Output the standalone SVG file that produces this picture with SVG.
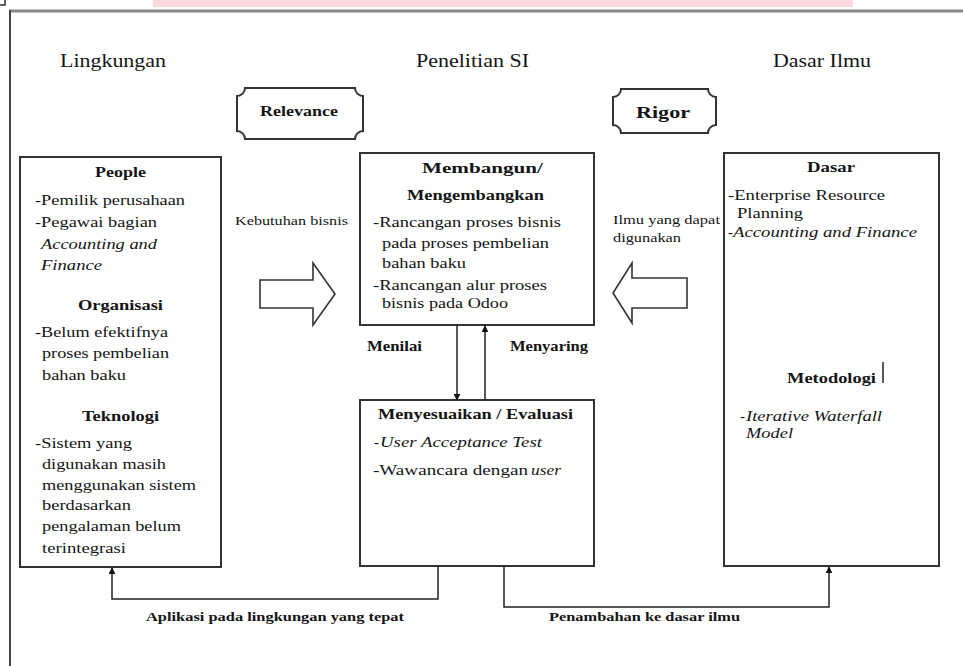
<svg xmlns="http://www.w3.org/2000/svg" width="963" height="666" viewBox="0 0 963 666">
<style>
text{font-family:"Liberation Serif","Times New Roman",serif;fill:#151515;font-size:15px}
.b{font-weight:bold}
.i{font-style:italic}
.h{font-size:18px}
.s{font-size:13.5px}
.box{fill:#fff;stroke:#333;stroke-width:2}
.blk{fill:#fff;stroke:#333;stroke-width:1.6}
.ln{fill:none;stroke:#222;stroke-width:1.5}
</style>
<defs>
<marker id="ah" viewBox="0 0 10 10" refX="9" refY="5" markerWidth="7" markerHeight="7" markerUnits="userSpaceOnUse" orient="auto">
<path d="M0,0 L10,5 L0,10 Z" fill="#111"/>
</marker>
</defs>
<rect width="963" height="666" fill="#fff"/>
<rect x="153" y="0" width="700" height="7" fill="#fcd8db"/>
<path d="M0,5 H5 V0" fill="none" stroke="#333" stroke-width="1.5"/>
<g id="frame">
<line x1="9" y1="11" x2="963" y2="11" stroke="#888" stroke-width="3"/>
<line x1="10" y1="10" x2="10" y2="666" stroke="#444" stroke-width="2"/>
</g>
<g id="headers">
<text class="h" x="60" y="67" textLength="106" lengthAdjust="spacingAndGlyphs">Lingkungan</text>
<text class="h" x="416" y="67" textLength="113" lengthAdjust="spacingAndGlyphs">Penelitian SI</text>
<text class="h" x="773" y="67" textLength="98" lengthAdjust="spacingAndGlyphs">Dasar Ilmu</text>
</g>
<g id="relevance">
<path class="box" d="M245,88 H355 A8,8 0 0 0 363,96 V131 A8,8 0 0 0 355,139 H245 A8,8 0 0 0 237,131 V96 A8,8 0 0 0 245,88 Z"/>
<text class="b" x="260" y="116" textLength="78" lengthAdjust="spacingAndGlyphs">Relevance</text>
</g>
<g id="rigor">
<path class="box" d="M621,89 H708 A8,8 0 0 0 716,97 V125 A8,8 0 0 0 708,133 H621 A8,8 0 0 0 613,125 V97 A8,8 0 0 0 621,89 Z"/>
<text class="b" x="636" y="118" style="font-size:17px" textLength="54" lengthAdjust="spacingAndGlyphs">Rigor</text>
</g>
<g id="lingkungan">
<rect class="box" x="20" y="157" width="201" height="410"/>
<text class="b" x="95" y="177" textLength="51" lengthAdjust="spacingAndGlyphs">People</text>
<text x="35" y="205" textLength="150" lengthAdjust="spacingAndGlyphs">-Pemilik perusahaan</text>
<text x="35" y="227" textLength="122" lengthAdjust="spacingAndGlyphs">-Pegawai bagian</text>
<text class="i" x="41" y="249" textLength="116" lengthAdjust="spacingAndGlyphs">Accounting and</text>
<text class="i" x="41" y="270" textLength="61" lengthAdjust="spacingAndGlyphs">Finance</text>
<text class="b" x="78" y="310" textLength="85" lengthAdjust="spacingAndGlyphs">Organisasi</text>
<text x="35" y="337" textLength="133" lengthAdjust="spacingAndGlyphs">-Belum efektifnya</text>
<text x="42" y="358" textLength="127" lengthAdjust="spacingAndGlyphs">proses pembelian</text>
<text x="42" y="380" textLength="84" lengthAdjust="spacingAndGlyphs">bahan baku</text>
<text class="b" x="82" y="421" textLength="77" lengthAdjust="spacingAndGlyphs">Teknologi</text>
<text x="35" y="448" textLength="97" lengthAdjust="spacingAndGlyphs">-Sistem yang</text>
<text x="42" y="469" textLength="124" lengthAdjust="spacingAndGlyphs">digunakan masih</text>
<text x="42" y="490" textLength="154" lengthAdjust="spacingAndGlyphs">menggunakan sistem</text>
<text x="42" y="510" textLength="89" lengthAdjust="spacingAndGlyphs">berdasarkan</text>
<text x="42" y="531" textLength="139" lengthAdjust="spacingAndGlyphs">pengalaman belum</text>
<text x="42" y="553" textLength="84" lengthAdjust="spacingAndGlyphs">terintegrasi</text>
</g>
<g id="membangun">
<rect class="box" x="360" y="153" width="234" height="172"/>
<text class="b" x="422" y="173" textLength="121" lengthAdjust="spacingAndGlyphs">Membangun/</text>
<text class="b" x="407" y="200" textLength="137" lengthAdjust="spacingAndGlyphs">Mengembangkan</text>
<text x="373" y="227" textLength="188" lengthAdjust="spacingAndGlyphs">-Rancangan proses bisnis</text>
<text x="382" y="248" textLength="167" lengthAdjust="spacingAndGlyphs">pada proses pembelian</text>
<text x="382" y="268" textLength="84" lengthAdjust="spacingAndGlyphs">bahan baku</text>
<text x="373" y="290" textLength="174" lengthAdjust="spacingAndGlyphs">-Rancangan alur proses</text>
<text x="382" y="308" textLength="126" lengthAdjust="spacingAndGlyphs">bisnis pada Odoo</text>
</g>
<g id="evaluasi">
<rect class="box" x="360" y="400" width="234" height="166"/>
<text class="b" x="378" y="419" textLength="195" lengthAdjust="spacingAndGlyphs">Menyesuaikan / Evaluasi</text>
<text x="374" y="447">-</text>
<text class="i" x="380" y="447" textLength="162" lengthAdjust="spacingAndGlyphs">User Acceptance Test</text>
<text x="373" y="475" textLength="155" lengthAdjust="spacingAndGlyphs">-Wawancara dengan</text>
<text class="i" x="531" y="475" textLength="30" lengthAdjust="spacingAndGlyphs">user</text>
</g>
<g id="dasar">
<rect class="box" x="724" y="153" width="215" height="413"/>
<text class="b" x="807" y="172" textLength="48" lengthAdjust="spacingAndGlyphs">Dasar</text>
<text x="728" y="200" textLength="157" lengthAdjust="spacingAndGlyphs">-Enterprise Resource</text>
<text x="737" y="218" textLength="66" lengthAdjust="spacingAndGlyphs">Planning</text>
<text x="728" y="237">-</text>
<text class="i" x="733" y="237" textLength="184" lengthAdjust="spacingAndGlyphs">Accounting and Finance</text>
<text class="b" x="787" y="383" textLength="89" lengthAdjust="spacingAndGlyphs">Metodologi</text>
<line x1="883" y1="362" x2="883" y2="383" stroke="#222" stroke-width="1.5"/>
<text x="740" y="421">-</text>
<text class="i" x="746" y="421" textLength="136" lengthAdjust="spacingAndGlyphs">Iterative Waterfall</text>
<text class="i" x="746" y="438" textLength="47" lengthAdjust="spacingAndGlyphs">Model</text>
</g>
<g id="kebutuhan">
<text class="s" x="235" y="225" textLength="113" lengthAdjust="spacingAndGlyphs">Kebutuhan bisnis</text>
<polygon class="blk" points="260,280 313,280 313,263 335,294 313,325 313,308 260,308"/>
</g>
<g id="ilmu">
<text class="s" x="613" y="224" textLength="107" lengthAdjust="spacingAndGlyphs">Ilmu yang dapat</text>
<text class="s" x="613" y="242" textLength="68" lengthAdjust="spacingAndGlyphs">digunakan</text>
<polygon class="blk" points="687,278 632,278 632,263 613,293 632,323 632,308 687,308"/>
</g>
<g id="connectors">
<line class="ln" x1="457" y1="325" x2="457" y2="400" marker-end="url(#ah)"/>
<line class="ln" x1="485" y1="400" x2="485" y2="326" marker-end="url(#ah)"/>
<path class="ln" d="M438,566 V599 H112 V568" marker-end="url(#ah)"/>
<path class="ln" d="M504,566 V607 H829 V567" marker-end="url(#ah)"/>
<text class="b" x="367" y="351" style="font-size:14px" textLength="55" lengthAdjust="spacingAndGlyphs">Menilai</text>
<text class="b" x="510" y="351" style="font-size:14px" textLength="78" lengthAdjust="spacingAndGlyphs">Menyaring</text>
<text class="b s" x="146" y="621" textLength="258" lengthAdjust="spacingAndGlyphs">Aplikasi pada lingkungan yang tepat</text>
<text class="b s" x="549" y="621" textLength="191" lengthAdjust="spacingAndGlyphs">Penambahan ke dasar ilmu</text>
</g>
</svg>
